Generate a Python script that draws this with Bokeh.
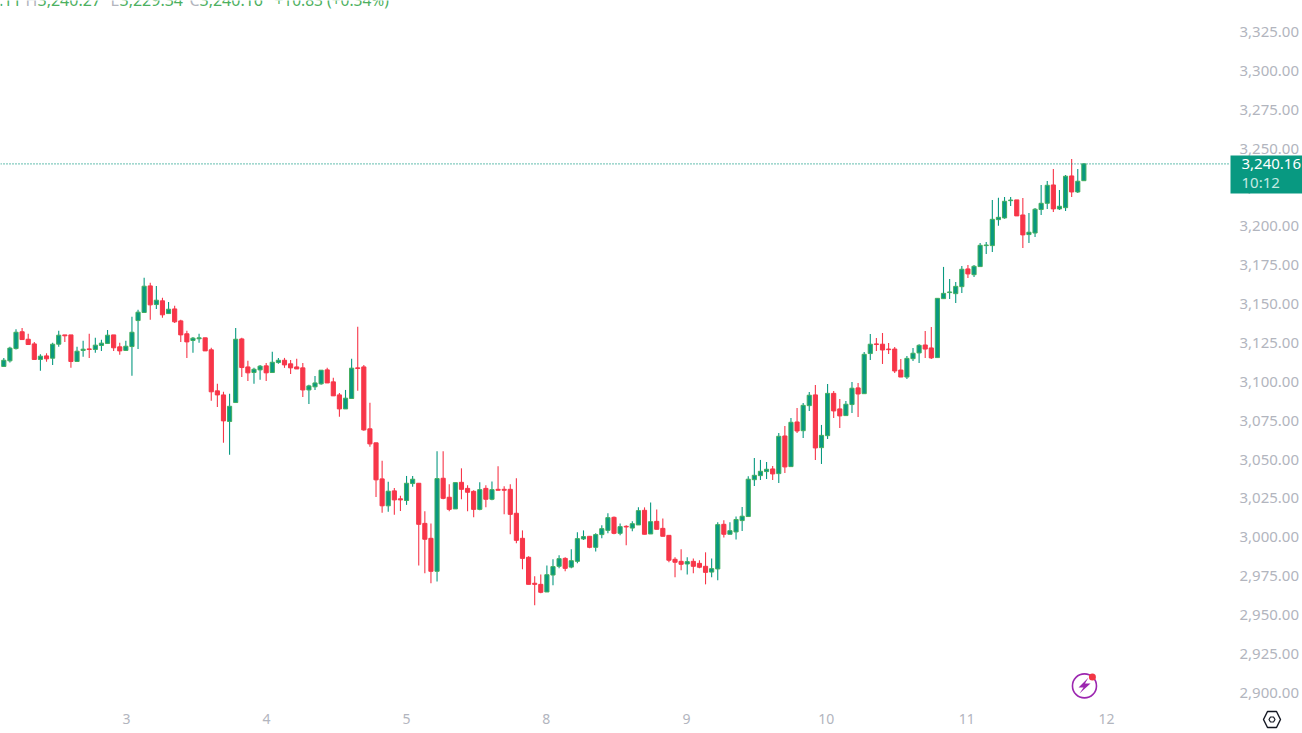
from bokeh.embed import file_html
from bokeh.resources import INLINE
from bokeh.plotting import figure
from bokeh.models import (Range1d, FixedTicker, NumeralTickFormatter, Label,
                          BoxAnnotation, PolyAnnotation, ColumnDataSource)

opens = [
3109.9,3113.5,3121.4,3132.2,3127.4,3124.4,3114.4,3116.7,3115.2,3124.2,
3130.2,3130.2,3113.1,3120.2,3121.2,3120.8,3123.4,3124.7,3130.2,3122.5,
3120.2,3122.7,3139.4,3144.6,3161.7,3149.7,3152.1,3143.9,3146.9,3139.2,
3130.9,3126.6,3127.7,3128.3,3120.6,3094.2,3091.6,3074.5,3086.7,3127.6,
3109.6,3106.0,3107.7,3110.3,3106.0,3112.4,3113.9,3111.6,3109.6,3109.0,
3094.8,3096.8,3098.7,3107.7,3100.0,3091.6,3082.6,3089.3,3109.0,3109.6,
3069.8,3060.8,3037.6,3020.3,3029.9,3024.8,3023.7,3034.6,3034.8,3009.0,
2999.4,2978.2,3038.0,3025.8,3018.3,3035.4,3031.5,3029.6,3018.0,3031.5,
3024.5,3030.9,3030.9,3030.9,3015.5,2999.4,2987.2,2970.5,2969.8,2964.9,
2975.8,2981.4,2986.5,2980.9,2984.6,2999.0,3000.7,2993.6,3001.8,3004.5,
3012.9,3002.6,3007.1,3006.0,3008.0,3017.4,3002.2,3010.3,3005.8,3001.3,
2985.9,2984.6,2982.9,2984.6,2983.3,2981.4,2977.7,2979.7,3008.4,3002.0,
3003.5,3010.8,3013.4,3037.1,3039.7,3042.3,3044.0,3041.0,3065.2,3045.5,
3074.2,3068.6,3084.7,3091.6,3057.7,3065.4,3092.6,3082.6,3078.3,3085.4,
3096.1,3092.4,3118.2,3124.4,3124.2,3121.1,3121.1,3107.6,3103.1,3114.9,
3118.6,3123.7,3121.8,3115.6,3153.5,3157.4,3156.7,3161.2,3172.6,3168.9,
3174.1,3187.6,3187.6,3204.3,3205.4,3216.5,3217.0,3207.3,3194.7,3195.7,
3210.8,3214.8,3226.6,3211.2,3212.0,3232.4,3222.1,3229.34]

highs = [
3115.4,3122.5,3133.9,3134.7,3130.9,3125.7,3117.8,3118.4,3125.1,3132.8,
3130.2,3130.2,3122.5,3126.4,3130.9,3128.3,3127.0,3133.4,3130.2,3125.1,
3126.4,3141.8,3146.3,3166.9,3163.7,3161.7,3154.0,3151.4,3148.9,3139.9,
3132.8,3128.9,3130.9,3128.3,3121.9,3098.7,3093.6,3092.3,3134.7,3128.3,
3113.5,3109.0,3110.9,3112.2,3119.3,3115.4,3115.4,3114.1,3114.8,3112.2,
3098.1,3103.8,3107.5,3109.0,3102.6,3092.9,3094.8,3114.8,3135.4,3110.9,
3086.5,3060.8,3049.2,3035.7,3031.8,3026.7,3039.5,3039.5,3034.8,3016.8,
3009.0,3055.3,3055.3,3034.1,3035.2,3044.4,3033.5,3030.3,3035.4,3033.5,
3036.0,3045.7,3032.8,3034.1,3038.0,3004.5,2987.8,2975.0,2976.2,2982.0,
2985.9,2988.5,2987.2,2992.3,3003.3,3004.5,3000.7,3002.6,3007.8,3015.5,
3013.5,3009.0,3007.8,3010.3,3019.3,3019.3,3022.5,3018.0,3012.2,3001.3,
2987.2,2992.3,2987.2,2986.5,2985.3,2990.4,2986.5,3009.7,3011.0,3009.7,
3013.4,3019.6,3039.3,3051.1,3049.8,3048.5,3045.9,3067.1,3071.6,3076.8,
3083.2,3086.4,3093.5,3098.0,3072.3,3098.6,3094.1,3089.0,3087.7,3099.9,
3099.3,3119.2,3130.8,3128.2,3131.4,3125.0,3122.4,3114.7,3116.6,3121.8,
3124.2,3132.7,3135.3,3153.7,3173.9,3166.2,3164.2,3174.5,3175.2,3175.2,
3189.3,3190.0,3217.0,3218.3,3218.9,3218.9,3217.0,3218.2,3208.6,3211.8,
3226.6,3229.2,3236.9,3223.4,3233.0,3243.3,3236.9,3240.27]

lows = [
3109.9,3112.4,3120.8,3127.2,3124.0,3114.4,3107.1,3112.9,3110.9,3122.5,
3125.7,3109.0,3113.1,3116.1,3115.4,3118.7,3119.9,3124.7,3119.9,3117.4,
3119.9,3103.9,3121.2,3144.6,3139.9,3146.9,3141.2,3143.9,3137.9,3125.7,
3115.4,3118.7,3125.1,3119.9,3087.8,3083.9,3060.8,3053.1,3086.7,3103.2,
3100.6,3098.7,3101.3,3100.6,3106.0,3111.6,3109.0,3105.1,3108.3,3090.3,
3085.8,3094.8,3098.1,3099.3,3091.0,3077.5,3082.6,3089.3,3094.2,3068.5,
3058.2,3026.0,3015.8,3016.4,3014.5,3017.0,3020.9,3032.5,2982.0,2976.9,
2970.5,2971.7,3024.5,3016.8,3018.3,3024.5,3016.8,3012.9,3017.4,3019.3,
3023.8,3030.3,3014.8,3002.0,2996.2,2979.5,2969.8,2956.3,2964.0,2964.9,
2969.2,2980.1,2978.2,2980.1,2983.3,2998.3,2993.0,2991.0,2999.4,3002.6,
3002.0,3001.3,2994.9,3003.9,3008.0,3002.0,3002.2,3005.2,3000.7,2984.0,
2974.3,2978.8,2976.2,2976.9,2980.1,2969.8,2974.3,2972.4,3000.0,3002.0,
2998.6,3004.1,3013.4,3033.1,3036.9,3037.6,3036.9,3035.0,3041.4,3045.5,
3067.1,3063.9,3081.3,3049.8,3047.2,3063.3,3076.8,3070.4,3078.3,3080.0,
3077.4,3092.4,3114.1,3119.9,3111.5,3117.9,3105.7,3103.1,3101.9,3113.4,
3112.1,3115.4,3114.7,3115.6,3153.5,3153.3,3150.7,3157.2,3166.8,3167.4,
3174.1,3182.2,3183.5,3200.3,3204.8,3213.1,3206.7,3186.1,3189.3,3193.2,
3207.3,3211.2,3209.2,3210.5,3209.9,3218.9,3221.5,3229.34]

closes = [
3113.9,3121.7,3131.9,3127.2,3124.0,3114.4,3116.5,3114.8,3124.2,3130.0,
3129.6,3113.1,3119.7,3121.0,3120.8,3123.6,3124.9,3130.0,3121.9,3119.9,
3122.9,3131.9,3144.8,3161.5,3149.5,3152.5,3143.1,3146.7,3138.6,3130.2,
3125.7,3128.1,3128.3,3119.9,3093.6,3091.6,3074.9,3084.3,3127.4,3109.2,
3105.8,3108.1,3110.1,3105.8,3112.6,3113.9,3110.9,3109.0,3108.3,3094.8,
3097.4,3099.3,3107.5,3099.3,3091.0,3082.6,3089.5,3108.8,3108.6,3069.1,
3060.1,3037.0,3020.3,3029.7,3024.1,3024.1,3034.8,3037.4,3008.4,2998.8,
2978.2,3037.8,3025.1,3018.0,3035.2,3030.9,3029.0,3018.0,3030.7,3024.5,
3030.7,3030.3,3030.3,3014.8,2998.1,2986.5,2969.8,2969.8,2964.7,2976.0,
2981.2,2986.3,2980.1,2985.0,2999.2,3000.5,2993.6,3001.8,3005.6,3012.7,
3002.6,3006.9,3006.7,3008.8,3017.2,3002.0,3010.1,3005.2,3000.7,2985.3,
2984.0,2982.7,2984.4,2981.4,2980.8,2977.5,2979.9,3008.2,3002.0,3004.3,
3011.5,3013.6,3037.4,3039.9,3042.5,3043.8,3040.8,3065.0,3045.3,3074.0,
3068.4,3084.9,3091.4,3057.5,3065.6,3092.6,3081.3,3078.1,3085.6,3095.9,
3092.2,3117.7,3124.2,3124.0,3120.5,3120.7,3107.0,3103.1,3115.1,3118.4,
3123.5,3121.1,3115.4,3153.7,3156.9,3157.8,3161.4,3172.4,3169.4,3174.3,
3187.8,3188.0,3204.5,3205.8,3216.1,3216.9,3206.7,3194.5,3196.2,3211.0,
3214.8,3226.4,3211.2,3212.9,3232.2,3222.1,3229.0,3240.16]

day_labels = ["3", "4", "5", "8", "9", "10", "11", "12"]
day_ticks = [20.1, 43.05, 66.0, 88.9, 111.9, 134.8, 157.8, 180.7]
price_ticks = [2900, 2925, 2950, 2975, 3000, 3025, 3050, 3075, 3100, 3125, 3150,
               3175, 3200, 3225, 3250, 3275, 3300, 3325]
last_price = 3240.16
last_label = "3,240.16"
countdown = "10:12"

GREEN = "#089981"
EDGE = "#43AE5E"
RED = "#F73649"
AXIS_TEXT = "#B2B5BE"
FONT = "Noto Sans"
W, H = 1302, 733
PANE_X = 201.03    # right edge of the candle pane on the bar scale
PANE_Y = 2890.3    # bottom edge of the candle pane on the price scale

idx = list(range(len(opens)))
up = [c >= o for o, c in zip(opens, closes)]
src = ColumnDataSource(dict(
    x=idx, top=[max(o, c) for o, c in zip(opens, closes)],
    bottom=[min(o, c) for o, c in zip(opens, closes)],
    high=highs, low=lows,
    wick=[GREEN if u else RED for u in up],
    fill=[GREEN if u else RED for u in up],
    edge=[EDGE if u else RED for u in up],
))

p = figure(frame_width=W, frame_height=H,
           output_backend="svg", toolbar_location=None, y_axis_location="right",
           x_range=Range1d(-0.541, 212.83), y_range=Range1d(2873.9, 3345.2),
           min_border=0, background_fill_color="white", border_fill_color="white",
           outline_line_color=None, margin=(0, 0, 0, 0))
p.grid.visible = False

yax, xax = p.yaxis[0], p.xaxis[0]
yax.fixed_location = PANE_X
xax.fixed_location = PANE_Y
yax.ticker = FixedTicker(ticks=price_ticks)
yax.formatter = NumeralTickFormatter(format="0,0.00")
xax.ticker = FixedTicker(ticks=day_ticks)
xax.major_label_overrides = dict(zip(day_ticks, day_labels))
for ax in (xax, yax):
    ax.axis_line_color = None
    ax.major_tick_line_color = None
    ax.minor_tick_line_color = None
    ax.major_label_text_color = AXIS_TEXT
    ax.major_label_text_font = FONT
    ax.major_label_text_font_size = "15px"
yax.major_label_standoff = 3
xax.major_label_standoff = 0
xax.major_label_text_font_size = "14px"

p.segment("x", "low", "x", "high", source=src, line_color="wick", line_width=1.1)
p.vbar(x="x", top="top", bottom="bottom", width=0.68, source=src,
       fill_color="fill", line_color="edge", line_width=1)

p.segment([p.x_range.start], [last_price], [PANE_X], [last_price], line_color=GREEN,
          line_dash="1 2", line_width=1.2)

def sy(y):
    return H - y

p.add_layout(BoxAnnotation(left=1230, right=1302, top=sy(155), bottom=sy(193),
                           left_units="screen", right_units="screen",
                           top_units="screen", bottom_units="screen",
                           fill_color=GREEN, fill_alpha=1, line_color=None))
for text, x, y, color in [(last_label, 1241, 163, "white"), (countdown, 1241, 181, "#C4E9E1"),
                          ("3,350.00", 1240, -9, AXIS_TEXT)]:
    p.add_layout(Label(x=x, y=sy(y), x_units="screen", y_units="screen", text=text,
                       text_color=color, text_font=FONT, text_font_size="15px",
                       text_baseline="alphabetic"))

for text, x, color, size in [("H", 25, AXIS_TEXT, "16px"), ("3,240.27", 37, "#4CB060", "16px"),
                             ("L", 110, AXIS_TEXT, "16px"), ("3,229.34", 119, "#4CB060", "16px"),
                             ("C", 189, AXIS_TEXT, "16px"), ("3,240.16", 199, "#4CB060", "16px"),
                             ("+10.83 (+0.34%)", 274, "#4CB060", "15.5px")]:
    p.add_layout(Label(x=x, y=sy(-1), x_units="screen", y_units="screen", text=text,
                       text_color=color, text_font=FONT, text_font_size=size,
                       text_baseline="alphabetic"))
p.add_layout(Label(x=21, y=sy(-1), x_units="screen", y_units="screen", text="3,230.11",
                   text_align="right", text_color="#4CB060", text_font=FONT,
                   text_font_size="16px", text_baseline="alphabetic"))

# lightning badge
p.scatter([177.1], [2904.5], marker="circle", size=24, fill_color=None,
          line_color="#9C27B0", line_width=1.6)
p.scatter([178.4], [2910.3], marker="circle", size=7, fill_color="#F23645", line_color=None)
p.add_layout(PolyAnnotation(
    xs=[1088, 1078, 1083, 1079, 1090, 1084.5], ys=[sy(677), sy(687), sy(687), sy(693), sy(683), sy(683)],
    xs_units="screen", ys_units="screen", fill_color="#9C27B0", fill_alpha=1, line_color=None))
# settings hexagon
p.add_layout(PolyAnnotation(
    xs=[1263, 1267, 1276, 1280, 1276, 1267], ys=[sy(719), sy(711), sy(711), sy(719), sy(727), sy(727)],
    xs_units="screen", ys_units="screen", fill_alpha=0, line_color="#131722", line_alpha=1, line_width=1.4))
p.add_layout(PolyAnnotation(
    xs=[1268.5, 1270, 1273, 1274.5, 1273, 1270], ys=[sy(719), sy(716.5), sy(716.5), sy(719), sy(721.5), sy(721.5)],
    xs_units="screen", ys_units="screen", fill_alpha=0, line_color="#131722", line_alpha=1, line_width=1.2))

open("out.html", "w").write(file_html(p, INLINE))
